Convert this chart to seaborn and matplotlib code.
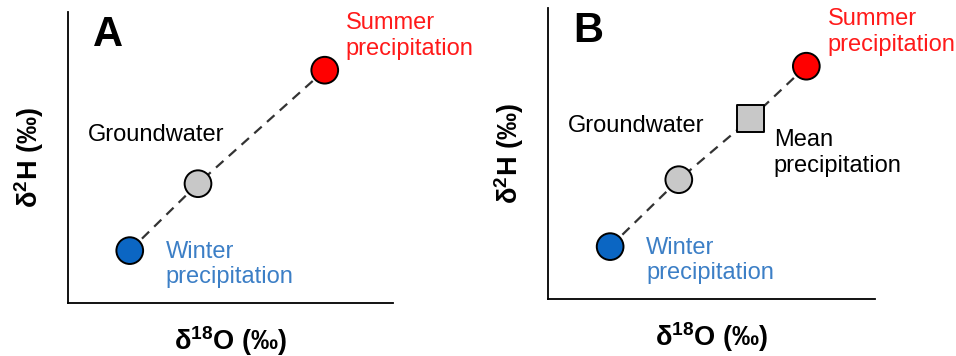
import pandas as pd
import matplotlib.pyplot as plt
import seaborn as sns

sns.set_theme(style="white")
plt.rcParams["font.family"] = ["Liberation Sans", "DejaVu Sans"]
plt.rcParams["mathtext.default"] = "regular"
plt.rcParams["text.color"] = "black"
plt.rcParams["axes.labelcolor"] = "black"

# ---------- DATA (conceptual, arbitrary units) ----------
names_a = ["Winter", "Groundwater", "Summer"]
d18o_a = [1.9, 4.0, 7.9]
d2h_a = [1.8, 4.1, 8.0]

names_b = ["Winter", "Groundwater", "Mean", "Summer"]
d18o_b = [1.9, 4.0, 6.2, 7.9]
d2h_b = [1.8, 4.1, 6.2, 8.0]

fill = {"Winter": "#0b66c3", "Groundwater": "#c8c8c8",
        "Mean": "#c8c8c8", "Summer": "#ff0000"}
marker = {"Winter": "o", "Groundwater": "o", "Mean": "s", "Summer": "o"}

TXT_BLUE = "#3c7fc6"
TXT_RED = "#ff1a1a"
FS = 17

W, H = 956, 356
fig = plt.figure(figsize=(W / 100, H / 100), dpi=100)


def px_axes(left, right, top, bottom):
    return fig.add_axes([left / W, 1 - bottom / H, (right - left) / W, (bottom - top) / H])


def panel(ax, names, xs, ys, letter):
    df = pd.DataFrame({"name": names, "x": xs, "y": ys})
    sns.lineplot(data=df, x="x", y="y", ax=ax, color="#333333", lw=1.6,
                 dashes=False, sort=False, zorder=1, estimator=None)
    ax.lines[-1].set_dashes([4.5, 3.2])
    sns.scatterplot(data=df, x="x", y="y", hue="name", style="name",
                    palette=fill, markers=marker, s=370, edgecolor="black",
                    linewidth=1.4, ax=ax, legend=False, zorder=3, clip_on=False)
    ax.set_xlim(0, 10)
    ax.set_ylim(0, 10)
    ax.set_xticks([])
    ax.set_yticks([])
    for s in ["top", "right"]:
        ax.spines[s].set_visible(False)
    for s in ["left", "bottom"]:
        ax.spines[s].set_color("black")
        ax.spines[s].set_linewidth(1.3)
    ax.set_xlabel(r"δ$^{18}$O (‰)", fontsize=19.5, fontweight="bold", labelpad=15)
    ax.set_ylabel(r"δ$^{2}$H (‰)", fontsize=19.5, fontweight="bold", labelpad=16)
    ax.text(1.22, 9.2, letter, fontsize=30, fontweight="bold", ha="center", va="center")
    ax.text(8.55, 9.18, "Summer\nprecipitation", color=TXT_RED, fontsize=FS,
            ha="left", va="center", linespacing=1.2)
    ax.text(3.0, 1.33, "Winter\nprecipitation", color=TXT_BLUE, fontsize=FS,
            ha="left", va="center", linespacing=1.2)


ax_a = px_axes(68, 393, 12, 303)
panel(ax_a, names_a, d18o_a, d2h_a, "A")
ax_a.text(0.6, 5.77, "Groundwater", fontsize=FS, ha="left", va="center")

ax_b = px_axes(548, 875, 8, 299)
panel(ax_b, names_b, d18o_b, d2h_b, "B")
ax_b.text(0.6, 5.94, "Groundwater", fontsize=FS, ha="left", va="center")
ax_b.text(6.9, 5.02, "Mean\nprecipitation", fontsize=FS, ha="left", va="center",
          linespacing=1.2)

fig.savefig("out.png", dpi=100)
